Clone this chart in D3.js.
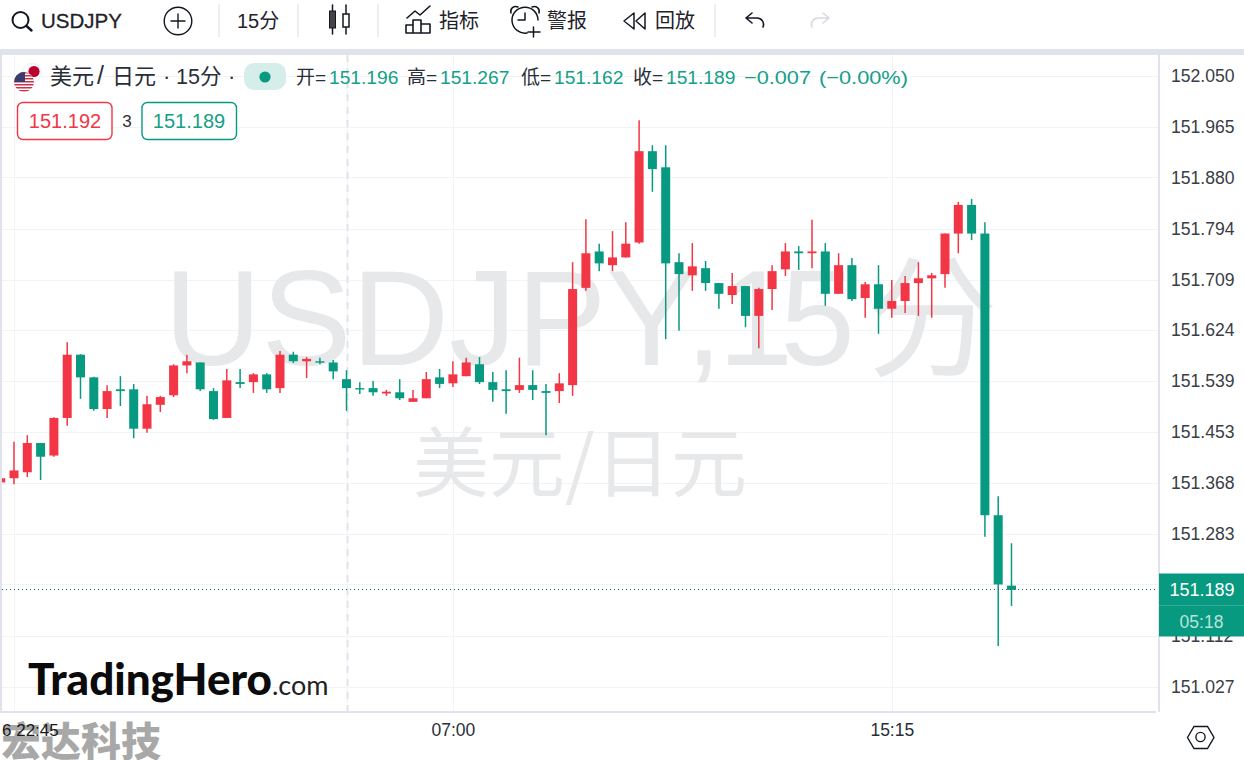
<!DOCTYPE html>
<html><head><meta charset="utf-8">
<script src="https://cdn.jsdelivr.net/npm/d3@7/dist/d3.min.js"></script>
<style>html,body{margin:0;padding:0;background:#fff;overflow:hidden}svg{display:block}</style>
</head><body><div id="chart"></div>
<script>
const opens=[151.369,151.376,151.386,151.435,151.414,151.477,151.583,151.545,151.492,151.525,151.525,151.459,151.499,151.515,151.565,151.570,151.522,151.477,151.537,151.537,151.550,151.527,151.583,151.572,151.572,151.570,151.542,151.527,151.527,151.518,151.520,151.504,151.510,151.545,151.535,151.547,151.567,151.537,151.525,151.524,151.532,151.522,151.522,151.532,151.695,151.756,151.733,151.746,151.771,151.924,151.897,151.738,151.716,151.728,151.703,151.683,151.698,151.648,151.693,151.726,151.756,151.753,151.756,151.685,151.733,151.678,151.701,151.660,151.673,151.703,151.711,151.718,151.786,151.834,151.786,151.314,151.196];
const highs=[151.377,151.437,151.448,151.435,151.478,151.604,151.584,151.546,151.532,151.547,151.534,151.514,151.514,151.567,151.583,151.570,151.527,151.559,151.559,151.552,151.552,151.589,151.588,151.579,151.578,151.574,151.557,151.537,151.539,151.524,151.542,151.524,151.554,151.559,151.572,151.578,151.579,151.554,151.557,151.578,151.557,151.534,151.552,151.738,151.810,151.769,151.790,151.805,151.976,151.934,151.934,151.753,151.770,151.740,151.703,151.720,151.698,151.695,151.733,151.770,151.765,151.809,151.770,151.753,151.745,151.705,151.733,151.708,151.715,151.738,151.720,151.786,151.839,151.844,151.805,151.346,151.267];
const lows=[151.369,151.366,151.378,151.373,151.412,151.464,151.509,151.489,151.477,151.497,151.443,151.452,151.487,151.512,151.552,151.522,151.474,151.477,151.527,151.519,151.519,151.519,151.569,151.544,151.567,151.542,151.489,151.517,151.514,151.514,151.507,151.504,151.510,151.527,151.529,151.547,151.534,151.504,151.484,151.519,151.507,151.448,151.502,151.514,151.690,151.723,151.723,151.746,151.769,151.856,151.609,151.623,151.690,151.690,151.660,151.668,151.629,151.594,151.658,151.715,151.725,151.728,151.665,151.685,151.673,151.645,151.618,151.645,151.653,151.648,151.645,151.695,151.753,151.775,151.278,151.095,151.162];
const closes=[151.376,151.389,151.435,151.412,151.477,151.583,151.545,151.492,151.522,151.522,151.459,151.500,151.512,151.565,151.572,151.525,151.475,151.540,151.534,151.550,151.525,151.583,151.572,151.576,151.570,151.555,151.527,151.525,151.520,151.521,151.510,151.510,151.542,151.534,151.550,151.570,151.537,151.524,151.522,151.532,151.524,151.519,151.535,151.693,151.753,151.736,151.746,151.769,151.924,151.894,151.736,151.718,151.731,151.703,151.685,151.698,151.648,151.693,151.723,151.756,151.753,151.756,151.685,151.733,151.676,151.701,151.660,151.673,151.703,151.711,151.716,151.786,151.834,151.786,151.314,151.198,151.189];
const priceTicks=[152.050,151.965,151.880,151.794,151.709,151.624,151.539,151.453,151.368,151.283,151.198,151.112,151.027];
const timeTickIdx=[34,67];
const timeTickLabels=["07:00","15:15"];
const vGridIdx=[1,26,34,67];
const lastPrice=151.189;

const FONT='"Liberation Sans",Arial,"Noto Sans CJK SC",sans-serif';
const CJK='"Liberation Sans","Noto Sans CJK SC",sans-serif';
const UP='#f23645',DOWN='#089981',BAND='#e0e3eb',GRID='#f2f3f5',INK='#131722';

const svg=d3.select('#chart').append('svg').attr('width',1244).attr('height',760).attr('viewBox','0 0 1244 760')
  .style('font-family',CJK);
const x=d3.scaleLinear().domain([0,76]).range([0.7,1011.5]);
const y=d3.scaleLinear().domain([151.027,152.05]).range([686.5,76]);

// frame
svg.append('rect').attr('width',1244).attr('height',760).attr('fill','#fff');
svg.append('rect').attr('x',0).attr('y',49).attr('width',1244).attr('height',6).attr('fill',BAND);
svg.append('rect').attr('x',0).attr('y',49).attr('width',2).attr('height',664).attr('fill',BAND);
svg.append('rect').attr('x',2).attr('y',55).attr('width',1242).attr('height',8).attr('rx',4).attr('fill','#fff');

// pane clip
svg.append('defs').append('clipPath').attr('id','pane').append('rect').attr('x',2).attr('y',55).attr('width',1156).attr('height',656);

// grid
const pane=svg.append('g').attr('clip-path','url(#pane)');
pane.selectAll('.hg').data(priceTicks).join('line').attr('x1',2).attr('x2',1158)
  .attr('y1',d=>Math.round(y(d))+.5).attr('y2',d=>Math.round(y(d))+.5).attr('stroke',GRID).attr('stroke-width',1);
pane.selectAll('.vg').data(vGridIdx).join('line').attr('y1',55).attr('y2',711)
  .attr('x1',d=>Math.round(x(d))+.5).attr('x2',d=>Math.round(x(d))+.5).attr('stroke',GRID).attr('stroke-width',1);

// watermark
const wm=pane.append('text').attr('y',365).attr('font-size',135).attr('fill','#e7e8ea').style('font-family',FONT);
wm.append('tspan').attr('x',164).text('USDJPY');
wm.append('tspan').attr('x',685).text(',');
wm.append('tspan').attr('x',718).text('1');
wm.append('tspan').attr('x',780).text('5');
wm.append('tspan').attr('x',866).attr('y',366).attr('font-size',132).style('font-family','"Noto Sans CJK SC"').text('分');
pane.append('text').attr('x',580).attr('y',491).attr('text-anchor','middle').attr('font-size',76).attr('fill','#e7e8ea')
  .style('font-family','"Noto Sans CJK SC"').attr('font-weight',400).text('美元/日元');

// crosshair
pane.append('line').attr('x1',347.5).attr('x2',347.5).attr('y1',55).attr('y2',711).attr('stroke',BAND).attr('stroke-width',2).attr('stroke-dasharray','7 6');

// candles
const idx=d3.range(opens.length);
const colorOf=i=>closes[i]>=opens[i]?UP:DOWN;
pane.selectAll('.wick').data(idx).join('line').attr('x1',i=>x(i)).attr('x2',i=>x(i))
  .attr('y1',i=>y(highs[i])).attr('y2',i=>y(lows[i])).attr('stroke',colorOf).attr('stroke-width',1.5);
pane.selectAll('.body').data(idx).join('rect').attr('x',i=>x(i)-4.5).attr('width',9)
  .attr('y',i=>y(Math.max(opens[i],closes[i])))
  .attr('height',i=>Math.max(1.4,Math.abs(y(opens[i])-y(closes[i])))).attr('fill',colorOf);

// last price line
pane.append('line').attr('x1',2).attr('x2',1158).attr('y1',Math.round(y(lastPrice))-.5).attr('y2',Math.round(y(lastPrice))-.5)
  .attr('stroke','#1f5f55').attr('stroke-width',1).attr('stroke-dasharray','1 3');

// logo
const logo=svg.append('text').attr('x',28).attr('y',695).attr('fill','#0b0b0b').style('font-family','Lato,"Open Sans",sans-serif');
logo.append('tspan').attr('font-size',44).attr('font-weight',900).attr('textLength',244).text('TradingHero');
logo.append('tspan').attr('font-size',27).attr('font-weight',400).attr('fill','#222').text('.com');

// axes lines
svg.append('rect').attr('x',1158).attr('y',55).attr('width',2).attr('height',657).attr('fill',BAND);
svg.append('rect').attr('x',0).attr('y',711).attr('width',1156).attr('height',2).attr('fill',BAND);

// right axis
const yAxis=d3.axisRight(y).tickValues(priceTicks).tickSize(0).tickPadding(0).tickFormat(d3.format('.3f'));
const gy=svg.append('g').attr('transform','translate(1171,0)').call(yAxis);
gy.select('.domain').remove();
gy.selectAll('text').attr('font-size',17.6).attr('fill','#3a3d45').style('font-family',FONT);

// footer brand + time axis
svg.append('text').attr('x',1).attr('y',756).attr('font-size',40).attr('font-weight',900).attr('fill','#a8a8a8')
  .style('font-family','"Noto Sans CJK SC"').text('宏达科技');
const xAxis=d3.axisBottom(x).tickValues(timeTickIdx).tickSize(0).tickPadding(0).tickFormat((d,i)=>timeTickLabels[i]);
const gx=svg.append('g').attr('transform','translate(0,724)').call(xAxis);
gx.select('.domain').remove();
gx.selectAll('text').attr('font-size',17.5).attr('fill','#2a2e39').style('font-family',FONT);
svg.append('text').attr('x',2).attr('y',736).attr('font-size',17).attr('fill','#1a1a1a').style('font-family',FONT).text('6 22:45');

// price tag
svg.append('rect').attr('x',1159).attr('y',573.5).attr('width',85).attr('height',63).attr('fill',DOWN);
svg.append('line').attr('x1',1159).attr('x2',1244).attr('y1',605.5).attr('y2',605.5).attr('stroke','#35ab97');
svg.append('text').attr('x',1202).attr('y',596).attr('text-anchor','middle').attr('font-size',18).attr('fill','#fff').style('font-family',FONT).text(d3.format('.3f')(lastPrice));
svg.append('text').attr('x',1201.5).attr('y',628).attr('text-anchor','middle').attr('font-size',17.5).attr('fill','#b9e3dc').style('font-family',FONT).text('05:18');

// settings hexagon
svg.append('path').attr('d','M1187.5 737.5L1194 726.5H1207.5L1214 737.5L1207.5 748.5H1194Z').attr('fill','none').attr('stroke',INK).attr('stroke-width',1.4);
svg.append('circle').attr('cx',1200.5).attr('cy',737).attr('r',4.6).attr('fill','none').attr('stroke',INK).attr('stroke-width',1.4);

// legend
const flag=svg.append('g');
flag.append('circle').attr('cx',32).attr('cy',73).attr('r',9.5).attr('fill','#fff').attr('stroke','#eee');
flag.append('circle').attr('cx',34).attr('cy',71.5).attr('r',5.6).attr('fill','#bc002d');
const cp=svg.select('defs').append('clipPath').attr('id','us');cp.append('circle').attr('cx',24).attr('cy',82).attr('r',10);
const us=flag.append('g').attr('clip-path','url(#us)');
us.append('rect').attr('x',14).attr('y',72).attr('width',20).attr('height',20).attr('fill','#fff');
d3.range(0,7).forEach(k=>us.append('rect').attr('x',14).attr('y',72+k*3).attr('width',20).attr('height',1.5).attr('fill','#c8324a'));
us.append('rect').attr('x',14).attr('y',72).attr('width',11).attr('height',10).attr('fill','#3c3b6e');

const legendLabel=(xx,t,col,size,len)=>{const e=svg.append('text').attr('x',xx).attr('y',84).attr('font-size',size||19).attr('fill',col||'#2a2e39').text(t);
  if(len)e.attr('textLength',len).attr('lengthAdjust','spacingAndGlyphs');return e;};
legendLabel(50,'美元','#2a2e39',22);
legendLabel(97,'/','#2a2e39',25);
legendLabel(112,'日元','#2a2e39',22);
legendLabel(163,'·','#2a2e39',22);
legendLabel(176,'15分','#2a2e39',21.5);
legendLabel(228,'·','#2a2e39',22);
svg.append('rect').attr('x',244).attr('y',63).attr('width',42).attr('height',27).attr('rx',10).attr('fill','#d5eeea');
svg.append('circle').attr('cx',265).attr('cy',77).attr('r',5.6).attr('fill',DOWN);
const ohlc=[[296,'开=',329,'151.196'],[407,'高=',440,'151.267'],[521,'低=',554,'151.162'],[633,'收=',666,'151.189']];
ohlc.forEach(a=>{legendLabel(a[0],a[1],'#2a2e39',19);legendLabel(a[2],a[3],'#13a088',19.2);});
legendLabel(744,'−0.007','#13a088',19.2,67);
legendLabel(819,'(−0.00%)','#13a088',19.2,89);

svg.append('rect').attr('x',17.5).attr('y',102.5).attr('width',94.5).attr('height',37).attr('rx',5.5).attr('fill','#fff').attr('stroke','#f23645').attr('stroke-width',1.4);
svg.append('rect').attr('x',142).attr('y',102.5).attr('width',94.5).attr('height',37).attr('rx',5.5).attr('fill','#fff').attr('stroke',DOWN).attr('stroke-width',1.4);
svg.append('text').attr('x',65).attr('y',128).attr('text-anchor','middle').attr('font-size',20).attr('fill','#f23645').style('font-family',FONT).text('151.192');
svg.append('text').attr('x',189).attr('y',128).attr('text-anchor','middle').attr('font-size',20).attr('fill','#13a088').style('font-family',FONT).text('151.189');
svg.append('text').attr('x',127).attr('y',127).attr('text-anchor','middle').attr('font-size',17).attr('fill','#2a2e39').style('font-family',FONT).text('3');

// toolbar
const ic=(d,c,w)=>svg.append('path').attr('d',d).attr('fill','none').attr('stroke',c||INK).attr('stroke-width',w||1.6).attr('stroke-linecap','round').attr('stroke-linejoin','round');
[219,298,378,715].forEach(v=>svg.append('line').attr('x1',v).attr('x2',v).attr('y1',4).attr('y2',37).attr('stroke',BAND).attr('stroke-width',1.2));
svg.append('circle').attr('cx',20.5).attr('cy',20).attr('r',8).attr('fill','none').attr('stroke',INK).attr('stroke-width',2);
ic('M26.5 26L31.5 30.5',INK,2.4);
const tb=(xx,t,s,w)=>svg.append('text').attr('x',xx).attr('y',28).attr('font-size',s||20).attr('font-weight',w||400).attr('fill','#1f222b').text(t);
tb(41,'USDJPY',20.5,400).attr('stroke','#1f222b').attr('stroke-width',.3).style('font-family',FONT);
svg.append('circle').attr('cx',178).attr('cy',21).attr('r',13.8).attr('fill','none').attr('stroke',INK).attr('stroke-width',1.4);
ic('M171 21H185M178 14V28',INK,1.4);
tb(237,'15分',20);
ic('M332.5 5V34M346 5V34',INK,1.5);
svg.append('rect').attr('x',329.5).attr('y',11).attr('width',6).attr('height',17).attr('fill','#444').attr('stroke',INK);
svg.append('rect').attr('x',343).attr('y',14).attr('width',6).attr('height',13).attr('fill','#fff').attr('stroke',INK).attr('stroke-width',1.5);
ic('M406 33V25H413V33H406ZM413 33V20H421V33M421 33V24H430V33H406M407 18L415 11L420 15L430 6');
tb(439,'指标',20);
ic('M538 20A13 13 0 1 0 527 33M511 13A5 5 0 0 1 518 7M532 7A5 5 0 0 1 539 13M525 13V20H518M533.5 27V37M528 32H540',INK,1.5);
tb(547,'警报',20);
ic('M634 13L624 21L634 29ZM645 13L636 21L645 29Z',INK,1.5);
tb(655,'回放',20);
ic('M746 18L752 13M746 18L752 23M746 18H757A6.5 6.5 0 0 1 763 27');
ic('M829 18L823 13M829 18L823 23M829 18H818A6.5 6.5 0 0 0 812 27','#d6d9e2');
</script></body></html>
